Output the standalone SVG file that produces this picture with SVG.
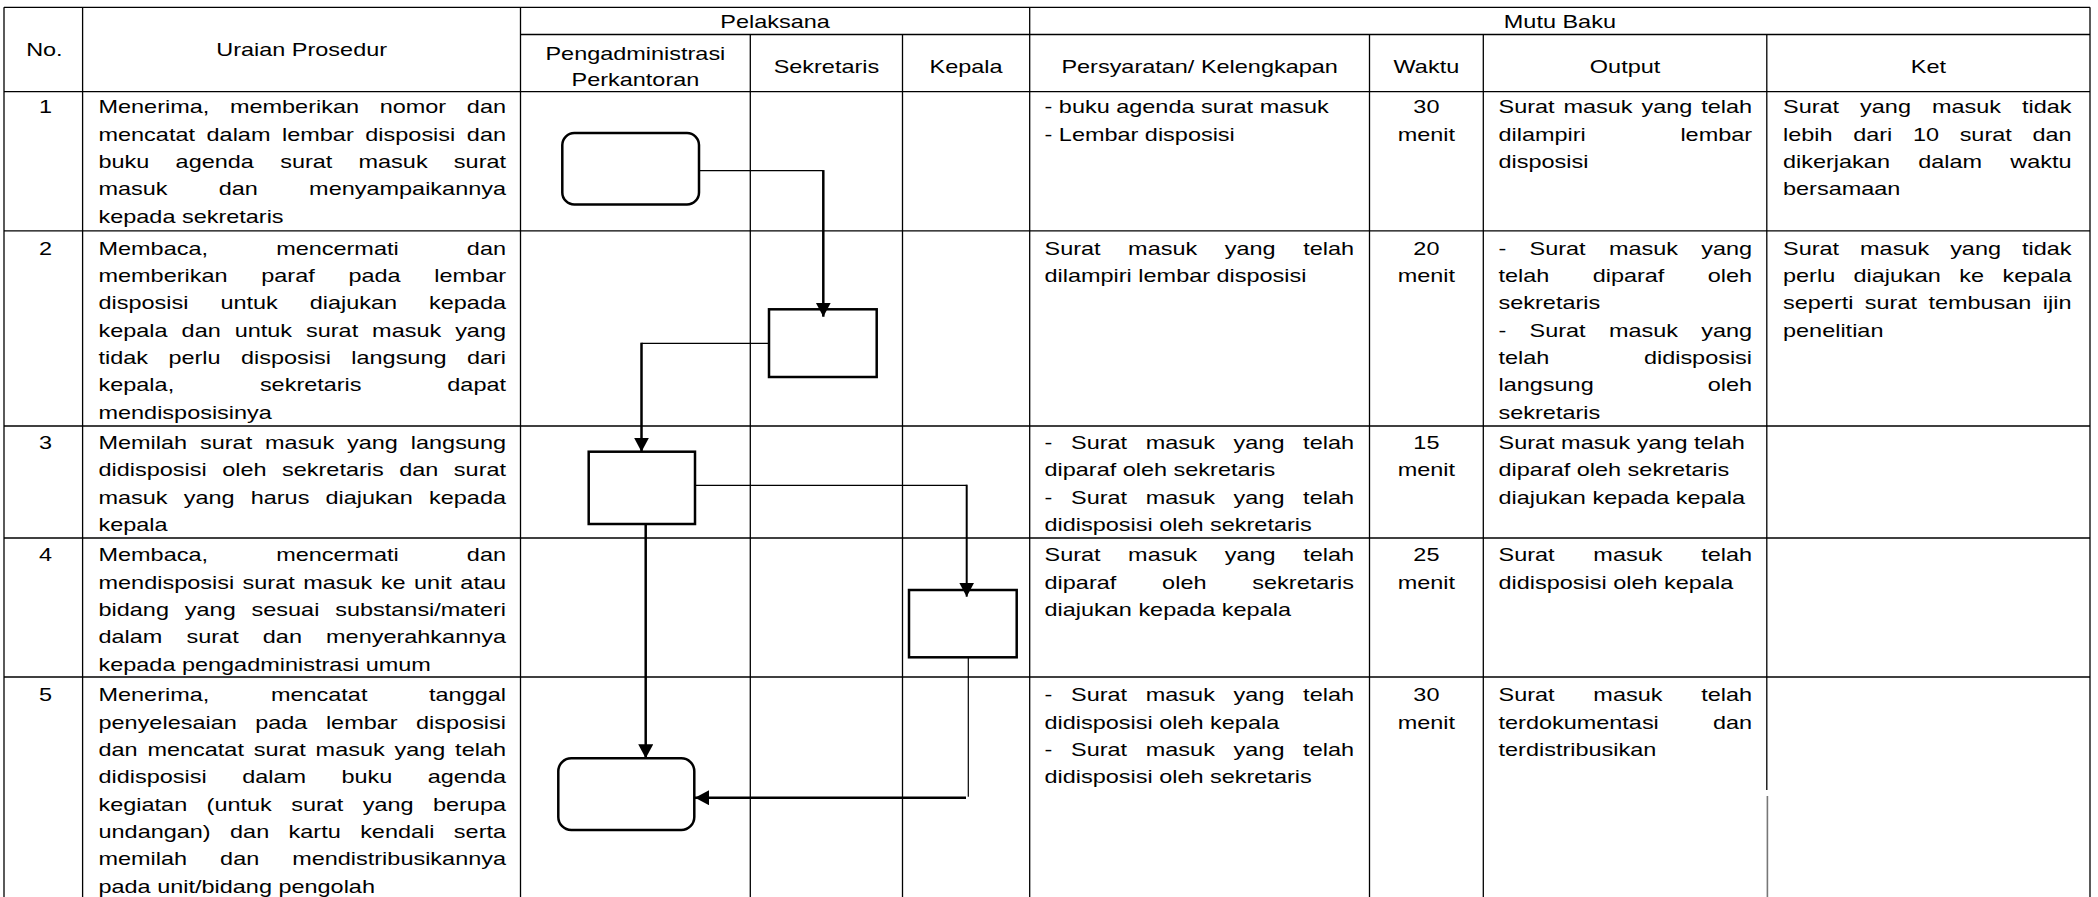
<svg xmlns="http://www.w3.org/2000/svg" width="2098" height="897" viewBox="0 0 2098 897">
<style>
.t{font-family:"Liberation Sans",Arial,sans-serif;font-size:18.8px;fill:#000}
.c{text-anchor:middle}
.grid line{stroke:#000;stroke-width:1.3}
.box{fill:#fff;stroke:#000;stroke-width:2.5}
.thin{stroke:#000;stroke-width:1.2;fill:none}
.thick{stroke:#000;stroke-width:2.5;fill:none}
</style>
<defs>
<marker id="arr" markerUnits="userSpaceOnUse" markerWidth="16" markerHeight="16" refX="14" refY="7.5" orient="auto">
<path d="M0,0 L14,7.5 L0,15 z" fill="#000"/>
</marker>
</defs>
<rect width="2098" height="897" fill="#fff"/>
<g id="grid" class="grid">
<line x1="4" y1="7.3" x2="2090" y2="7.3"/>
<line x1="520.5" y1="34.5" x2="2090" y2="34.5"/>
<line x1="4" y1="91.7" x2="2090" y2="91.7"/>
<line x1="4" y1="230.8" x2="2090" y2="230.8"/>
<line x1="4" y1="426" x2="2090" y2="426"/>
<line x1="4" y1="538" x2="2090" y2="538"/>
<line x1="4" y1="677" x2="2090" y2="677"/>
<line x1="4" y1="7.3" x2="4" y2="897"/>
<line x1="82.6" y1="7.3" x2="82.6" y2="897"/>
<line x1="520.5" y1="7.3" x2="520.5" y2="897"/>
<line x1="750.3" y1="34.5" x2="750.3" y2="897"/>
<line x1="902.5" y1="34.5" x2="902.5" y2="897"/>
<line x1="1029.7" y1="7.3" x2="1029.7" y2="897"/>
<line x1="1369.5" y1="34.5" x2="1369.5" y2="897"/>
<line x1="1483.3" y1="34.5" x2="1483.3" y2="897"/>
<line x1="1766.8" y1="34.5" x2="1766.8" y2="790"/>
<line x1="1767.4" y1="796" x2="1767.4" y2="897" style="stroke:#777;stroke-width:1.6"/>
<line x1="2090" y1="7.3" x2="2090" y2="897"/>
</g>

<g id="nodes">
<g id="step1"><rect class="box" x="562.3" y="133" width="136.7" height="71.5" rx="12" ry="12"/></g>
<g id="step2"><rect class="box" x="769" y="309.3" width="107.7" height="67.7"/></g>
<g id="step3"><rect class="box" x="588.7" y="451.7" width="106.3" height="72.3"/></g>
<g id="step4"><rect class="box" x="909" y="590" width="107.7" height="67.3"/></g>
<g id="step5"><rect class="box" x="558.3" y="758.3" width="136" height="71.7" rx="13" ry="13"/></g>
</g>

<g id="connectors">
<line class="thin" x1="699" y1="170.7" x2="823.3" y2="170.7"/>
<line class="thick" x1="823.3" y1="170.1" x2="823.3" y2="316.7" marker-end="url(#arr)"/>
<line class="thin" x1="769" y1="343.3" x2="641.5" y2="343.3"/>
<line class="thick" x1="641.5" y1="342.7" x2="641.5" y2="451.7" marker-end="url(#arr)"/>
<line class="thin" x1="695" y1="485.3" x2="966.7" y2="485.3"/>
<line class="thick" x1="966.7" y1="484.7" x2="966.7" y2="596.7" marker-end="url(#arr)" style="stroke-width:2"/>
<line class="thick" x1="645.7" y1="524" x2="645.7" y2="758.3" marker-end="url(#arr)"/>
<line class="thin" x1="968.3" y1="657.3" x2="968.3" y2="796.7"/>
<line class="thick" x1="966" y1="797.7" x2="695" y2="797.7" marker-end="url(#arr)"/>
</g>

<g id="texts" class="t" transform="scale(1.2479,1)">
<g id="header">
<text class="c" x="35.58" y="56.5">No.</text>
<text class="c" x="241.73" y="56.5">Uraian Prosedur</text>
<text class="c" x="621.14" y="28.2">Pelaksana</text>
<text class="c" x="1250.01" y="28.2">Mutu Baku</text>
<text class="c" x="509.18" y="60.5">Pengadministrasi</text>
<text class="c" x="509.18" y="86">Perkantoran</text>
<text class="c" x="662.25" y="73">Sekretaris</text>
<text class="c" x="774.19" y="73">Kepala</text>
<text class="c" x="961.32" y="73">Persyaratan/ Kelengkapan</text>
<text class="c" x="1143.06" y="73">Waktu</text>
<text class="c" x="1302.25" y="73">Output</text>
<text class="c" x="1545.35" y="73">Ket</text>
</g>

<g id="row1">
<text class="c" x="36.46" y="113.5">1</text>
<text x="78.94" y="113.5" textLength="326.55" lengthAdjust="spacing" word-spacing="11.35">Menerima, memberikan nomor dan</text>
<text x="78.94" y="140.8" textLength="326.55" lengthAdjust="spacing" word-spacing="4.06">mencatat dalam lembar disposisi dan</text>
<text x="78.94" y="168.1" textLength="326.55" lengthAdjust="spacing" word-spacing="15.8">buku agenda surat masuk surat</text>
<text x="78.94" y="195.4" textLength="326.55" lengthAdjust="spacing" word-spacing="35.8">masuk dan menyampaikannya</text>
<text x="78.94" y="222.7">kepada sekretaris</text>
<text x="837.02" y="113.5">- buku agenda surat masuk</text>
<text x="837.02" y="140.8">- Lembar disposisi</text>
<text class="c" x="1143.06" y="113.5">30</text>
<text class="c" x="1143.06" y="140.8">menit</text>
<text x="1200.85" y="113.5" textLength="203.15" lengthAdjust="spacing" word-spacing="1.91">Surat masuk yang telah</text>
<text x="1200.85" y="140.8" textLength="203.15" lengthAdjust="spacing" word-spacing="70.56">dilampiri lembar</text>
<text x="1200.85" y="168.1">disposisi</text>
<text x="1428.83" y="113.5" textLength="231.2" lengthAdjust="spacing" word-spacing="11.6">Surat yang masuk tidak</text>
<text x="1428.83" y="140.8" textLength="231.2" lengthAdjust="spacing" word-spacing="11.31">lebih dari 10 surat dan</text>
<text x="1428.83" y="168.1" textLength="231.2" lengthAdjust="spacing" word-spacing="17.41">dikerjakan dalam waktu</text>
<text x="1428.83" y="195.4">bersamaan</text>
</g>

<g id="row2">
<text class="c" x="36.46" y="254.8">2</text>
<text x="78.94" y="254.8" textLength="326.55" lengthAdjust="spacing" word-spacing="49.4">Membaca, mencermati dan</text>
<text x="78.94" y="282.1" textLength="326.55" lengthAdjust="spacing" word-spacing="21.79">memberikan paraf pada lembar</text>
<text x="78.94" y="309.4" textLength="326.55" lengthAdjust="spacing" word-spacing="20.38">disposisi untuk diajukan kepada</text>
<text x="78.94" y="336.7" textLength="326.55" lengthAdjust="spacing" word-spacing="5.96">kepala dan untuk surat masuk yang</text>
<text x="78.94" y="364" textLength="326.55" lengthAdjust="spacing" word-spacing="11.11">tidak perlu disposisi langsung dari</text>
<text x="78.94" y="391.3" textLength="326.55" lengthAdjust="spacing" word-spacing="63.49">kepala, sekretaris dapat</text>
<text x="78.94" y="418.6">mendisposisinya</text>
<text x="837.02" y="254.8" textLength="248.03" lengthAdjust="spacing" word-spacing="16.83">Surat masuk yang telah</text>
<text x="837.02" y="282.1">dilampiri lembar disposisi</text>
<text class="c" x="1143.06" y="254.8">20</text>
<text class="c" x="1143.06" y="282.1">menit</text>
<text x="1200.85" y="254.8" textLength="203.15" lengthAdjust="spacing" word-spacing="13.41">- Surat masuk yang</text>
<text x="1200.85" y="282.1" textLength="203.15" lengthAdjust="spacing" word-spacing="29.5">telah diparaf oleh</text>
<text x="1200.85" y="309.4">sekretaris</text>
<text x="1200.85" y="336.7" textLength="203.15" lengthAdjust="spacing" word-spacing="13.41">- Surat masuk yang</text>
<text x="1200.85" y="364" textLength="203.15" lengthAdjust="spacing" word-spacing="70.53">telah didisposisi</text>
<text x="1200.85" y="391.3" textLength="203.15" lengthAdjust="spacing" word-spacing="86.18">langsung oleh</text>
<text x="1200.85" y="418.6">sekretaris</text>
<text x="1428.83" y="254.8" textLength="231.2" lengthAdjust="spacing" word-spacing="11.6">Surat masuk yang tidak</text>
<text x="1428.83" y="282.1" textLength="231.2" lengthAdjust="spacing" word-spacing="9.51">perlu diajukan ke kepala</text>
<text x="1428.83" y="309.4" textLength="231.2" lengthAdjust="spacing" word-spacing="3.94">seperti surat tembusan ijin</text>
<text x="1428.83" y="336.7">penelitian</text>
</g>

<g id="row3">
<text class="c" x="36.46" y="449.2">3</text>
<text x="78.94" y="449.2" textLength="326.55" lengthAdjust="spacing" word-spacing="5.11">Memilah surat masuk yang langsung</text>
<text x="78.94" y="476.5" textLength="326.55" lengthAdjust="spacing" word-spacing="7.2">didisposisi oleh sekretaris dan surat</text>
<text x="78.94" y="503.8" textLength="326.55" lengthAdjust="spacing" word-spacing="7.71">masuk yang harus diajukan kepada</text>
<text x="78.94" y="531.1">kepala</text>
<text x="837.02" y="449.2" textLength="248.03" lengthAdjust="spacing" word-spacing="9.74">- Surat masuk yang telah</text>
<text x="837.02" y="476.5">diparaf oleh sekretaris</text>
<text x="837.02" y="503.8" textLength="248.03" lengthAdjust="spacing" word-spacing="9.74">- Surat masuk yang telah</text>
<text x="837.02" y="531.1">didisposisi oleh sekretaris</text>
<text class="c" x="1143.06" y="449.2">15</text>
<text class="c" x="1143.06" y="476.5">menit</text>
<text x="1200.85" y="449.2">Surat masuk yang telah</text>
<text x="1200.85" y="476.5">diparaf oleh sekretaris</text>
<text x="1200.85" y="503.8">diajukan kepada kepala</text>
</g>

<g id="row4">
<text class="c" x="36.46" y="561.5">4</text>
<text x="78.94" y="561.5" textLength="326.55" lengthAdjust="spacing" word-spacing="49.4">Membaca, mencermati dan</text>
<text x="78.94" y="588.8" textLength="326.55" lengthAdjust="spacing" word-spacing="1.57">mendisposisi surat masuk ke unit atau</text>
<text x="78.94" y="616.1" textLength="326.55" lengthAdjust="spacing" word-spacing="7.5">bidang yang sesuai substansi/materi</text>
<text x="78.94" y="643.4" textLength="326.55" lengthAdjust="spacing" word-spacing="14.11">dalam surat dan menyerahkannya</text>
<text x="78.94" y="670.7">kepada pengadministrasi umum</text>
<text x="837.02" y="561.5" textLength="248.03" lengthAdjust="spacing" word-spacing="16.83">Surat masuk yang telah</text>
<text x="837.02" y="588.8" textLength="248.03" lengthAdjust="spacing" word-spacing="31.52">diparaf oleh sekretaris</text>
<text x="837.02" y="616.1">diajukan kepada kepala</text>
<text class="c" x="1143.06" y="561.5">25</text>
<text class="c" x="1143.06" y="588.8">menit</text>
<text x="1200.85" y="561.5" textLength="203.15" lengthAdjust="spacing" word-spacing="25.86">Surat masuk telah</text>
<text x="1200.85" y="588.8">didisposisi oleh kepala</text>
</g>

<g id="row5">
<text class="c" x="36.46" y="701.5">5</text>
<text x="78.94" y="701.5" textLength="326.55" lengthAdjust="spacing" word-spacing="44.16">Menerima, mencatat tanggal</text>
<text x="78.94" y="728.8" textLength="326.55" lengthAdjust="spacing" word-spacing="9.59">penyelesaian pada lembar disposisi</text>
<text x="78.94" y="756.1" textLength="326.55" lengthAdjust="spacing" word-spacing="2.61">dan mencatat surat masuk yang telah</text>
<text x="78.94" y="783.4" textLength="326.55" lengthAdjust="spacing" word-spacing="23.17">didisposisi dalam buku agenda</text>
<text x="78.94" y="810.7" textLength="326.55" lengthAdjust="spacing" word-spacing="10.32">kegiatan (untuk surat yang berupa</text>
<text x="78.94" y="838" textLength="326.55" lengthAdjust="spacing" word-spacing="10.32">undangan) dan kartu kendali serta</text>
<text x="78.94" y="865.3" textLength="326.55" lengthAdjust="spacing" word-spacing="21.19">memilah dan mendistribusikannya</text>
<text x="78.94" y="892.6">pada unit/bidang pengolah</text>
<text x="837.02" y="701.5" textLength="248.03" lengthAdjust="spacing" word-spacing="9.74">- Surat masuk yang telah</text>
<text x="837.02" y="728.8">didisposisi oleh kepala</text>
<text x="837.02" y="756.1" textLength="248.03" lengthAdjust="spacing" word-spacing="9.74">- Surat masuk yang telah</text>
<text x="837.02" y="783.4">didisposisi oleh sekretaris</text>
<text class="c" x="1143.06" y="701.5">30</text>
<text class="c" x="1143.06" y="728.8">menit</text>
<text x="1200.85" y="701.5" textLength="203.15" lengthAdjust="spacing" word-spacing="25.86">Surat masuk telah</text>
<text x="1200.85" y="728.8" textLength="203.15" lengthAdjust="spacing" word-spacing="38.13">terdokumentasi dan</text>
<text x="1200.85" y="756.1">terdistribusikan</text>
</g>
</g>
</svg>
